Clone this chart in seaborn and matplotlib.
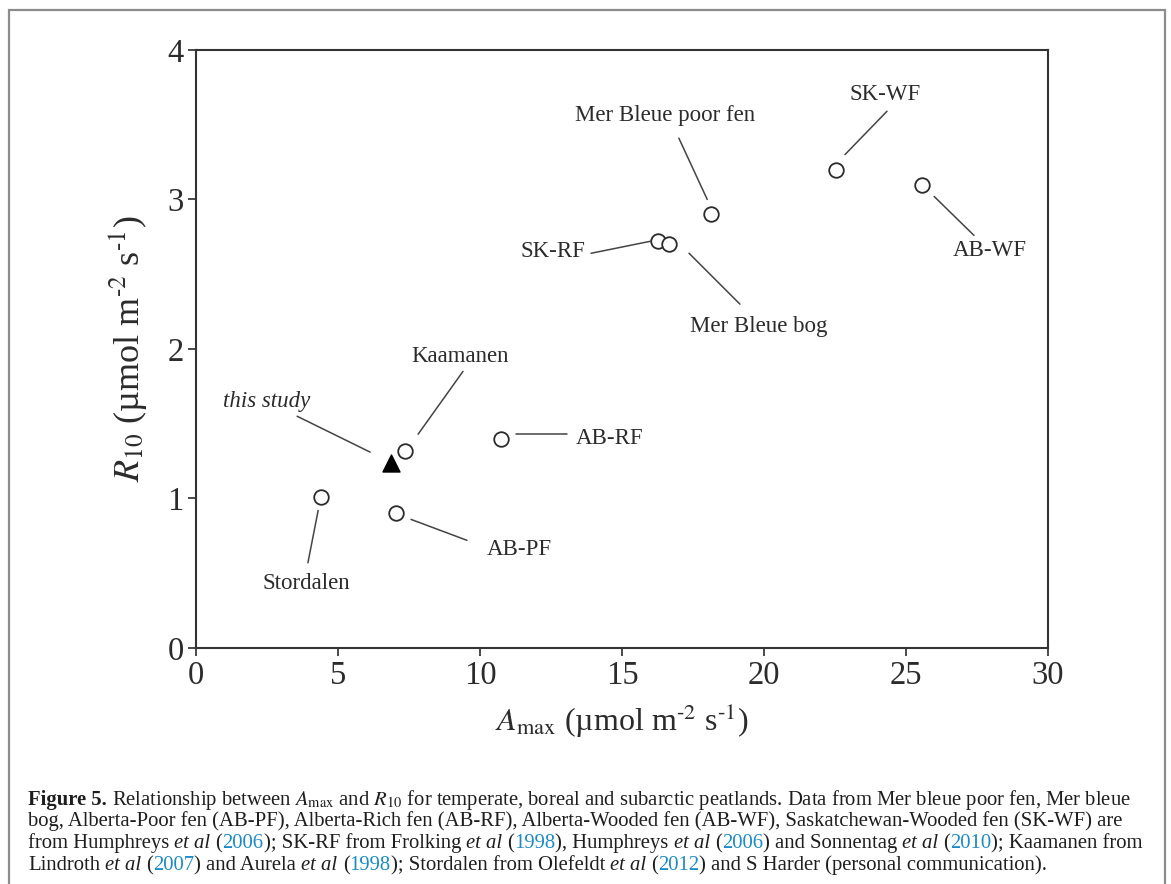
import pandas as pd
import matplotlib
matplotlib.use("Agg")
import matplotlib.pyplot as plt
import seaborn as sns

# data
sites = ["Stordalen", "Kaamanen", "AB-PF", "AB-RF", "SK-RF", "Mer Bleue bog",
         "Mer Bleue poor fen", "SK-WF", "AB-WF"]
amax = [4.4, 7.35, 7.05, 10.75, 16.25, 16.65, 18.15, 22.55, 25.55]
r10 = [1.01, 1.32, 0.90, 1.40, 2.72, 2.70, 2.90, 3.20, 3.10]

this_amax = [6.85]
this_r10 = [1.24]

# label centres and leader line ends (data units)
label_x = [3.9, 9.3, 11.4, 14.55, 12.55, 19.8, 16.5, 24.25, 27.95]
label_y = [0.43, 1.95, 0.66, 1.40, 2.65, 2.15, 3.56, 3.70, 2.66]
line_x0 = [3.94, 9.40, 9.54, 13.06, 13.91, 19.15, 17.00, 24.33, 27.39]
line_y0 = [0.57, 1.85, 0.72, 1.43, 2.64, 2.30, 3.41, 3.59, 2.76]
line_x1 = [4.30, 7.82, 7.57, 11.27, 15.99, 17.36, 18.00, 22.85, 25.99]
line_y1 = [0.92, 1.43, 0.86, 1.43, 2.72, 2.64, 3.00, 3.30, 3.02]
this_label = (2.5, 1.65)
this_line = ((3.56, 1.55), (6.13, 1.31))

df = pd.DataFrame({"site": sites, "Amax": amax, "R10": r10})
df_this = pd.DataFrame({"Amax": this_amax, "R10": this_r10})

sns.set_style("ticks")
plt.rcParams["font.family"] = ["Liberation Serif", "DejaVu Serif"]
plt.rcParams["mathtext.fontset"] = "stix"

fig = plt.figure(figsize=(11.71, 8.84), dpi=100)
ax = fig.add_axes([0.1674, 0.267, 0.7276, 0.6765])

ink = "#2b2b2b"
sns.scatterplot(data=df, x="Amax", y="R10", ax=ax, marker="o", s=110,
                facecolor="white", edgecolor=ink, linewidth=1.3, zorder=3)
sns.scatterplot(data=df_this, x="Amax", y="R10", ax=ax, marker="^", s=150,
                color="black", edgecolor="black", zorder=3)

for i, name in enumerate(sites):
    ax.text(label_x[i], label_y[i], name, ha="center", va="center",
            fontsize=16.5, color=ink)
    ax.plot([line_x0[i], line_x1[i]], [line_y0[i], line_y1[i]],
            color="#444444", lw=1.1)
ax.text(this_label[0], this_label[1], "this study", ha="center", va="center",
        fontsize=16.5, style="italic", color=ink)
ax.plot([this_line[0][0], this_line[1][0]], [this_line[0][1], this_line[1][1]],
        color="#444444", lw=1.1)

ax.set_xlim(0, 30)
ax.set_ylim(0, 4)
ax.set_xticks([0, 5, 10, 15, 20, 25, 30])
ax.set_yticks([0, 1, 2, 3, 4])
ax.tick_params(direction="out", length=6, width=1.2, labelsize=23.5,
               colors=ink, pad=3)
for sp in ax.spines.values():
    sp.set_linewidth(1.5)
    sp.set_color("#333333")
unit = r" (µmol m$^{\mathrm{‐2}}$ s$^{\mathrm{‐1}}$)"
ax.set_xlabel(r"$A_{\mathrm{max}}$" + unit, fontsize=23, color=ink, labelpad=8)
ax.set_ylabel(r"$R_{10}$" + unit, fontsize=26, color=ink, labelpad=13)

# frame around the whole figure
fig.patches.append(plt.Rectangle((9 / 1171, -0.05), 1156 / 1171, 1 - 10 / 884 + 0.05,
                                 transform=fig.transFigure, fill=False,
                                 edgecolor="#8c8c8c", lw=1.6))

# caption, drawn piece by piece
blue = "#1b8ac6"
caption = [
    [("Figure 5.", "b"), (" Relationship between $A_{\\mathrm{max}}$ and $R_{10}$ for temperate, boreal and subarctic peatlands. Data from Mer bleue poor fen, Mer bleue", "n")],
    [("bog, Alberta-Poor fen (AB-PF), Alberta-Rich fen (AB-RF), Alberta-Wooded fen (AB-WF), Saskatchewan-Wooded fen (SK-WF) are", "n")],
    [("from Humphreys ", "n"), ("et al", "i"), (" (", "n"), ("2006", "c"), ("); SK-RF from Frolking ", "n"), ("et al", "i"), (" (", "n"), ("1998", "c"),
     ("), Humphreys ", "n"), ("et al", "i"), (" (", "n"), ("2006", "c"), (") and Sonnentag ", "n"), ("et al", "i"), (" (", "n"), ("2010", "c"),
     ("); Kaamanen from", "n")],
    [("Lindroth ", "n"), ("et al", "i"), (" (", "n"), ("2007", "c"), (") and Aurela ", "n"), ("et al", "i"), (" (", "n"), ("1998", "c"),
     ("); Stordalen from Olefeldt ", "n"), ("et al", "i"), (" (", "n"), ("2012", "c"), (") and S Harder (personal communication).", "n")],
]
cap_size = 14.9
cap_y = [797, 819, 841, 863]
renderer = fig.canvas.get_renderer()


def width_of(s, **kw):
    t = fig.text(0, 0, s, fontsize=cap_size, **kw)
    w = t.get_window_extent(renderer).width
    t.remove()
    return w


space_w = width_of("a a") - width_of("aa")

for line, ypx in zip(caption, cap_y):
    xpx = 28
    for text, st in line:
        kw = {"color": "#1e1e1e"}
        if st == "b":
            kw["weight"] = "bold"
        elif st == "i":
            kw["style"] = "italic"
        elif st == "c":
            kw["color"] = blue
        lead = len(text) - len(text.lstrip(" "))
        trail = len(text) - len(text.rstrip(" "))
        core = text.strip(" ")
        xpx += lead * space_w
        t = fig.text(xpx / 1171, 1 - ypx / 884, core, fontsize=cap_size,
                     va="center_baseline", ha="left", **kw)
        xpx += t.get_window_extent(renderer).width + trail * space_w

fig.savefig("out.png", dpi=100)
